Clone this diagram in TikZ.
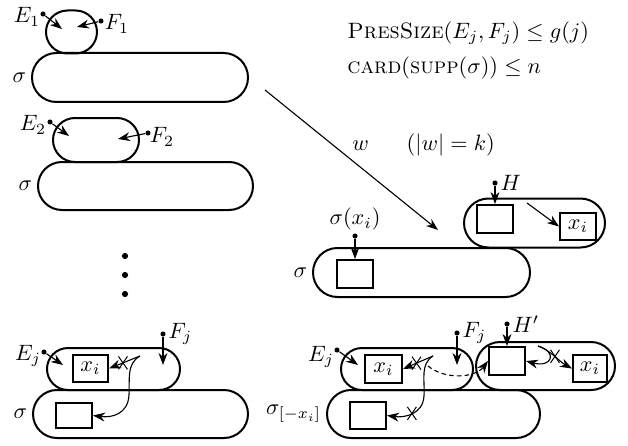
\documentclass[tikz,border=0pt]{standalone}
\usetikzlibrary{shapes.misc,arrows.meta,positioning}
\newcommand{\pxu}{0.45pt}

\begin{document}
\begin{tikzpicture}[x=0.45pt, y=-0.45pt,
  stad/.style={draw, rounded rectangle, line width=0.9pt, inner sep=0pt},
  cell/.style={draw, rectangle, line width=0.9pt, inner sep=0pt,
               minimum width=36*\pxu, minimum height=28*\pxu},
  pin/.style={circle, fill, inner sep=0pt, minimum size=2.3pt},
  ar/.style={-{Stealth[length=5.4pt,width=4pt]}, line width=0.5pt},
  xmark/.style={draw, cross out, line width=0.45pt, inner sep=0pt,
                minimum width=8*\pxu, minimum height=12*\pxu},
  lbl/.style={inner sep=1pt},
]
\useasboundingbox (0,0) rectangle (628,445);
% --- first pair ----------------------------------------------------------
\node[stad, minimum width=51*\pxu, minimum height=43*\pxu] (blob1) at (71.5,32) {};
\node[stad, minimum width=216*\pxu, minimum height=49*\pxu] (sig1) at (140,77.5) {};
\node[lbl, left=1pt of sig1] (s1) {$\sigma$};
\node[pin] (e1) at (43,14) {};
\node (le1) at (27,17) {$E_1$};
\coordinate (e1t) at (62,29);
\draw[ar] (e1) -- (e1t);
\node[pin] (f1) at (101,21) {};
\node (lf1) at (117,24) {$F_1$};
\coordinate (f1t) at (77,27);
\draw[ar] (f1) -- (f1t);
% --- second pair ---------------------------------------------------------
\node[stad, minimum width=86*\pxu, minimum height=44*\pxu] (blob2) at (96,140) {};
\node[stad, minimum width=215*\pxu, minimum height=48*\pxu] (sig2) at (145.5,186) {};
\node[lbl, left=1pt of sig2] (s2) {$\sigma$};
\node[pin] (e2) at (50,122) {};
\node (le2) at (33,125) {$E_2$};
\coordinate (e2t) at (69,136);
\draw[ar] (e2) -- (e2t);
\node[pin] (f2) at (148,133) {};
\node (lf2) at (162,137) {$F_2$};
\coordinate (f2t) at (118,139);
\draw[ar] (f2) -- (f2t);
\foreach \y in {256,275,294}
  \node[pin, minimum size=2.8pt] (vd\y) at (125,\y) {};
% --- bounds and the word -------------------------------------------------
\node[anchor=west, inner sep=0pt] (size) at (347,33)
  {$\textsc{PresSize}(E_j,F_j)\leq g(j)$};
\node[anchor=west, inner sep=0pt] (card) at (347,68)
  {$\textsc{card}(\textsc{supp}(\sigma))\leq n$};
\node[anchor=west, inner sep=0pt] (len) at (352,145) {$w\hspace{17pt}(|w|=k)$};
\coordinate (ws) at (265,90);
\coordinate (we) at (438,230);
\draw[ar] (ws) -- (we);
% --- after reading w ----------------------------------------------------
\node[stad, minimum width=141*\pxu, minimum height=49*\pxu] (hst) at (534.5,223) {};
\node[cell] (hbox) at (495,219) {};
\node[cell, minimum height=27*\pxu] (hxi) at (578,226.5) {$x_i$};
\node[pin] (hp) at (495,183) {};
\node[anchor=west, inner sep=1pt] (lh) at (hp.east) {$H$};
\draw[ar] (hp) -- (hbox.north);
\coordinate (hs) at (527,203);
\draw[ar] (hs) -- (hxi.west);
\node[stad, minimum width=217*\pxu, minimum height=49*\pxu] (sst) at (421.5,272.5) {};
\node[cell] (sbox) at (355,274) {};
\node[lbl, left=1pt of sst] (s3) {$\sigma$};
\node[pin] (sp) at (355,236) {};
\node[anchor=south, inner sep=1pt] (lsx) at (sp.north) {$\sigma(x_i)$};
\draw[ar] (sp) -- (sbox.north);
% --- pair j, left ---------------------------------------------------------
\node[stad, minimum width=133*\pxu, minimum height=42*\pxu] (bl) at (113.5,369) {};
\node[cell, minimum width=35*\pxu, minimum height=27*\pxu] (xil) at (90.5,368.5) {$x_i$};
\node[stad, minimum width=215*\pxu, minimum height=48*\pxu] (sigl) at (140.5,414) {};
\node[cell, minimum height=25*\pxu] (sbl) at (74,415.5) {};
\node[lbl, left=1pt of sigl] (s4) {$\sigma$};
\node[pin] (ejl) at (44,352) {};
\node (lejl) at (28,356) {$E_j$};
\coordinate (ejlt) at (63,365);
\draw[ar] (ejl) -- (ejlt);
\node[pin] (fjl) at (163,334) {};
\node[anchor=west, inner sep=1pt] (lfjl) at (fjl.east) {$F_j$};
\coordinate (fjlt) at (163,365);
\draw[ar] (fjl) -- (fjlt);
\coordinate (srcl) at (140,356);
\draw[ar] (srcl) -- node[xmark, pos=0.55] (xl1) {} (xil.east);
\draw[ar] (srcl) .. controls (126,364) and (130,380) .. (129,395)
  .. controls (128,414) and (112,418) .. (sbl.east);
% --- pair j, right --------------------------------------------------------
\node[stad, minimum width=132*\pxu, minimum height=42*\pxu] (br) at (407,369) {};
\node[cell, minimum width=37*\pxu] (xir) at (383.5,369) {$x_i$};
\node[stad, minimum width=139*\pxu, minimum height=48*\pxu] (hpst) at (545.5,366) {};
\node[cell] (hpbox) at (507,361) {};
\node[cell, minimum width=34*\pxu, minimum height=27*\pxu] (xir2) at (590,368.5) {$x_i$};
\node[stad, minimum width=213*\pxu, minimum height=48*\pxu] (sigr) at (433.5,414) {};
\node[cell, minimum height=27*\pxu] (sbr) at (368,415.5) {};
\node[lbl, left=1pt of sigr] (s5) {$\sigma_{[-x_i]}$};
\node[pin] (ejr) at (337,350) {};
\node (lejr) at (321,357) {$E_j$};
\coordinate (ejrt) at (358,365);
\draw[ar] (ejr) -- (ejrt);
\node[pin] (fjr) at (457,333) {};
\node[anchor=west, inner sep=1pt] (lfjr) at (fjr.east) {$F_j$};
\coordinate (fjrt) at (457,365);
\draw[ar] (fjr) -- (fjrt);
\node[pin] (hpp) at (507,324) {};
\node[anchor=west, inner sep=1pt] (lhp) at (hpp.east) {$H'$};
\draw[ar] (hpp) -- (hpbox.north);
\coordinate (srcr) at (433,356);
\draw[ar] (srcr) -- node[xmark, pos=0.55] (xr1) {} (xir.east);
\draw[ar] (srcr) .. controls (420,364) and (425,380) .. (424,396)
  .. controls (423,414) and (405,418) .. node[xmark, pos=0.5] (xr2) {} (sbr.east);
\coordinate (dsh) at (428,366);
\draw[ar, dash pattern=on 2pt off 1.5pt] (dsh) .. controls (445,380) and (475,378) .. (hpbox.west);
\coordinate (srch) at (538,346);
\draw[ar] (srch) .. controls (550,350) and (560,362) .. node[xmark, pos=0.5] (xr3) {} (xir2.west);
\draw[ar] (srch) .. controls (558,352) and (552,368) .. (hpbox.east);
\end{tikzpicture}
\end{document}
